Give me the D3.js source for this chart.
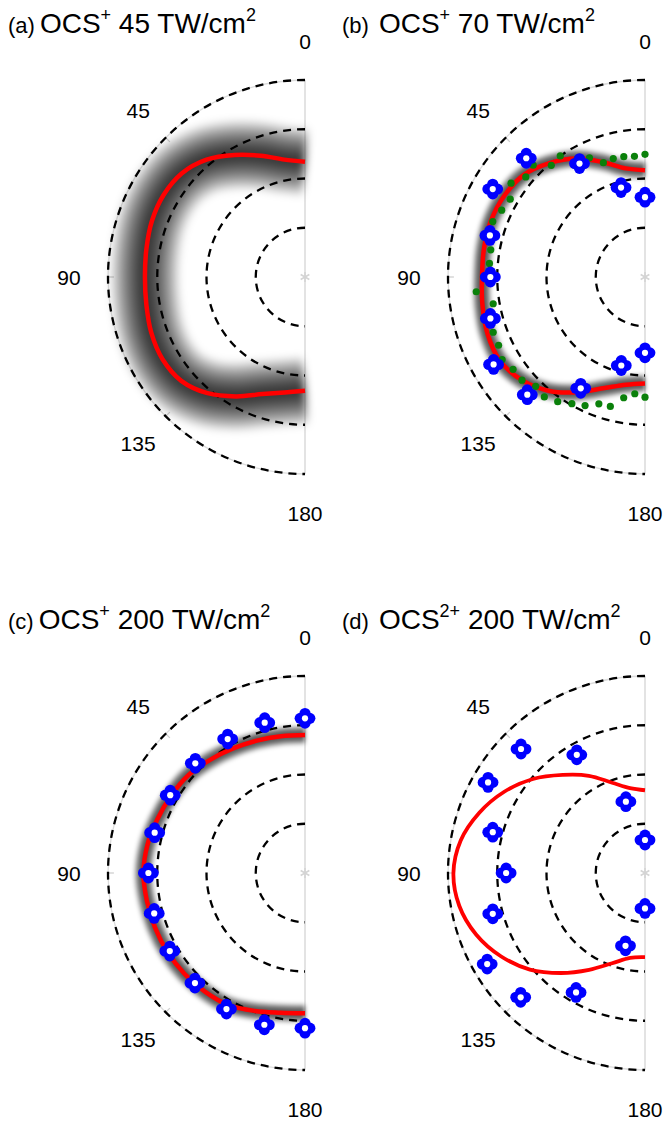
<!DOCTYPE html>
<html>
<head>
<meta charset="utf-8">
<script src="https://cdn.jsdelivr.net/npm/d3@7"></script>
<style>
  body { margin: 0; background: #fff; }
  text { font-family: "Liberation Sans", Arial, sans-serif; fill: #000; }
</style>
</head>
<body>
<script>
// ************************************************************************************
// DATA  (radius in ring units, 4 dashed rings, angle in degrees from the top)
// ************************************************************************************
var angles10 = [0, 10, 20, 30, 40, 50, 60, 70, 80, 90, 100, 110, 120, 130, 140, 150, 160, 170, 180]
var angles15 = [0, 15, 30, 45, 60, 75, 90, 105, 120, 135, 150, 165, 180]
var angles5  = [0, 5, 10, 15, 20, 25, 30, 35, 40, 45, 50, 55, 60, 65, 70, 75, 80, 85, 90,
                95, 100, 105, 110, 115, 120, 125, 130, 135, 140, 145, 150, 155, 160, 165, 170, 175, 180]

var tickLabels = ["0", "45", "90", "135", "180"]
var tickAngles = [0, 45, 90, 135, 180]
var rings      = [1, 2, 3, 4]

var redA = [2.34, 2.42, 2.62, 2.86, 3.11, 3.27, 3.32, 3.31, 3.27, 3.25, 3.27, 3.32, 3.34, 3.28, 3.08, 2.80, 2.53, 2.38, 2.31]
var redB = [2.17, 2.24, 2.48, 2.78, 3.02, 3.22, 3.30, 3.33, 3.32, 3.31, 3.35, 3.40, 3.40, 3.26, 3.02, 2.70, 2.40, 2.22, 2.16]
var redC = [2.80, 2.82, 2.86, 2.92, 3.00, 3.09, 3.14, 3.19, 3.25, 3.28, 3.26, 3.24, 3.22, 3.19, 3.15, 3.10, 2.98, 2.88, 2.85]
var redD = [1.68, 1.75, 1.95, 2.28, 2.60, 2.97, 3.30, 3.58, 3.80, 3.89, 3.83, 3.65, 3.38, 3.05, 2.65, 2.27, 1.95, 1.75, 1.71]

var blueB = [1.62, 1.88, 2.66, 3.41, 3.57, 3.26, 3.14, 3.25, 3.55, 3.38, 2.61, 1.86, 1.54]
var blueC = [3.14, 3.16, 3.14, 3.15, 3.16, 3.16, 3.18, 3.17, 3.17, 3.16, 3.19, 3.19, 3.15]
var blueD = [0.67, 1.50, 2.77, 3.56, 3.68, 3.20, 2.82, 3.20, 3.70, 3.57, 2.80, 1.53, 0.72]

var greenB = [2.49, 2.46, 2.48, 2.49, 2.47, 2.67, 2.76, 3.00, 2.96, 3.21, 3.16, 3.32, 3.16, 3.21, 3.29, 3.26, 3.18, 3.17, 3.28,
              3.44, 3.13, 3.34, 3.28, 3.28, 3.35, 3.27, 3.26, 3.14, 3.18, 3.09, 2.97, 2.88, 2.74, 2.72, 2.49, 2.38, 2.44]

// panel titles
var panelTags   = ["(a)", "(b)", "(c)", "(d)"]
var panelIons   = ["OCS", "OCS", "OCS", "OCS"]
var panelCharge = ["+", "+", "+", "2+"]
var panelInt    = ["45", "70", "200", "200"]

// ************************************************************************************
// GLOBAL VARIABLES
// ************************************************************************************
var W = 665, H = 1126
  , svg = d3.select("body").append("svg").attr("width", W).attr("height", H)
  , rScale = d3.scaleLinear().domain([0, 4]).range([0, 197])
  , aScale = d3.scaleLinear().domain([0, 180]).range([0, -Math.PI])
  , defs = svg.append("defs")

defs.append("filter").attr("id", "blurWide").attr("x", "-30%").attr("y", "-30%").attr("width", "160%").attr("height", "160%")
    .append("feGaussianBlur").attr("stdDeviation", 4)
defs.append("filter").attr("id", "blurNarrow").attr("x", "-30%").attr("y", "-30%").attr("width", "160%").attr("height", "160%")
    .append("feGaussianBlur").attr("stdDeviation", 2)

var panels = [
    { cx: 305, cy: 277, red: redA, shade: "wide" },
    { cx: 645, cy: 277, red: redB, shade: "narrow", blue: blueB, green: greenB },
    { cx: 305, cy: 873, red: redC, shade: "narrow", blue: blueC },
    { cx: 645, cy: 873, red: redD, shade: null, blue: blueD, thin: true }
]

// ************************************************************************************
// FUNCTIONS HELPERS
// ************************************************************************************
var radial = function (angles) {
    return d3.lineRadial()
        .angle(function (d, i) { return aScale(angles[i]) })
        .radius(function (d) { return rScale(d) })
        .curve(d3.curveCatmullRom.alpha(0.5))
}
  , polarXY = function (ang, r) {
        var a = aScale(ang)
        return [rScale(r) * Math.sin(a), -rScale(r) * Math.cos(a)]
    }
  , halfCircle = function (r) {
        var p = d3.path()
        p.moveTo(0, -r)
        p.arc(0, 0, r, -Math.PI / 2, Math.PI / 2, true)
        return p.toString()
    }

// flower-like blue marker: four lobes with a white hole
function flower (g, x, y) {
    var m = g.append("g").attr("transform", "translate(" + x + "," + y + ")")
    ;[[0, -4.8], [4.8, 0], [0, 4.8], [-4.8, 0]].forEach(function (o) {
        m.append("circle").attr("cx", o[0]).attr("cy", o[1]).attr("r", 5.6).attr("fill", "#0000ff")
    })
    m.append("circle").attr("r", 3.1).attr("fill", "#fff")
}

// ************************************************************************************
// MAIN SCRIPT
// ************************************************************************************
panels.forEach(function (p, k) {
    var g = svg.append("g").attr("transform", "translate(" + p.cx + "," + p.cy + ")")

    // gray polar frame
    g.append("path").attr("d", halfCircle(rScale(4))).attr("fill", "none")
        .attr("stroke", "#dcdcdc").attr("stroke-width", 1.3)
    g.append("line").attr("x1", 0).attr("x2", 0).attr("y1", -rScale(4)).attr("y2", rScale(4))
        .attr("stroke", "#dcdcdc").attr("stroke-width", 1.6)
    ;[45, 90, 135].forEach(function (a) {
        var p1 = polarXY(a, 4), p2 = polarXY(a, 3.88)
        g.append("line").attr("x1", p1[0]).attr("y1", p1[1]).attr("x2", p2[0]).attr("y2", p2[1])
            .attr("stroke", "#d0d0d0").attr("stroke-width", 1.3)
    })
    g.append("path").attr("d", d3.symbol(d3.symbolAsterisk, 70)())
        .attr("fill", "none").attr("stroke", "#d4d4d4").attr("stroke-width", 1.5)

    // angle labels
    tickAngles.forEach(function (a, i) {
        var xy = [-236 * Math.sin(a * Math.PI / 180), -236 * Math.cos(a * Math.PI / 180)]
        g.append("text").attr("x", xy[0]).attr("y", xy[1]).attr("text-anchor", "middle")
            .attr("dominant-baseline", "central").style("font-size", "21px").text(tickLabels[i])
    })

    // shaded band around the red curve
    var line = radial(angles10)
    if (p.shade == "wide") {
        var sg = g.append("g").attr("filter", "url(#blurWide)")
        ;[66, 54, 44, 34, 25, 16, 9].forEach(function (w) {
            sg.append("path").attr("d", line(p.red)).attr("fill", "none")
                .attr("stroke", "#000").attr("stroke-opacity", 0.2).attr("stroke-width", w)
        })
    } else if (p.shade == "narrow") {
        var sg = g.append("g").attr("filter", "url(#blurNarrow)")
        ;[18, 13, 9].forEach(function (w) {
            sg.append("path").attr("d", line(p.red)).attr("fill", "none")
                .attr("stroke", "#000").attr("stroke-opacity", 0.3).attr("stroke-width", w)
        })
    }

    // dashed rings
    rings.forEach(function (r) {
        g.append("path").attr("d", halfCircle(rScale(r))).attr("fill", "none")
            .attr("stroke", "#000").attr("stroke-width", 2.3).attr("stroke-dasharray", "8,6")
    })

    // red theory curve
    g.append("path").attr("d", line(p.red)).attr("fill", "none")
        .attr("stroke", "#ff0000").attr("stroke-width", p.thin ? 3.8 : 4.5)

    // green dots
    if (p.green) {
        p.green.forEach(function (r, i) {
            var xy = polarXY(angles5[i], r)
            g.append("circle").attr("cx", xy[0]).attr("cy", xy[1]).attr("r", 3.6).attr("fill", "#0a800a")
        })
    }

    // blue measured points
    if (p.blue) {
        p.blue.forEach(function (r, i) {
            var xy = polarXY(angles15[i], r)
            flower(g, xy[0], xy[1])
        })
    }

    // title
    var tx = k % 2 == 0 ? 8 : 342
      , ty = k < 2 ? 33 : 629
      , t = svg.append("text").attr("x", tx).attr("y", ty)
    t.append("tspan").style("font-size", "22px").text(panelTags[k])
    t.append("tspan").style("font-size", "28px").attr("dx", k % 2 == 0 ? 5 : 10).text(panelIons[k])
    t.append("tspan").style("font-size", "18px").attr("dy", -12).text(panelCharge[k])
    t.append("tspan").style("font-size", "28px").attr("dy", 12).text(" " + panelInt[k] + " TW/cm")
    t.append("tspan").style("font-size", "18px").attr("dy", -12).text("2")
})
</script>
</body>
</html>
